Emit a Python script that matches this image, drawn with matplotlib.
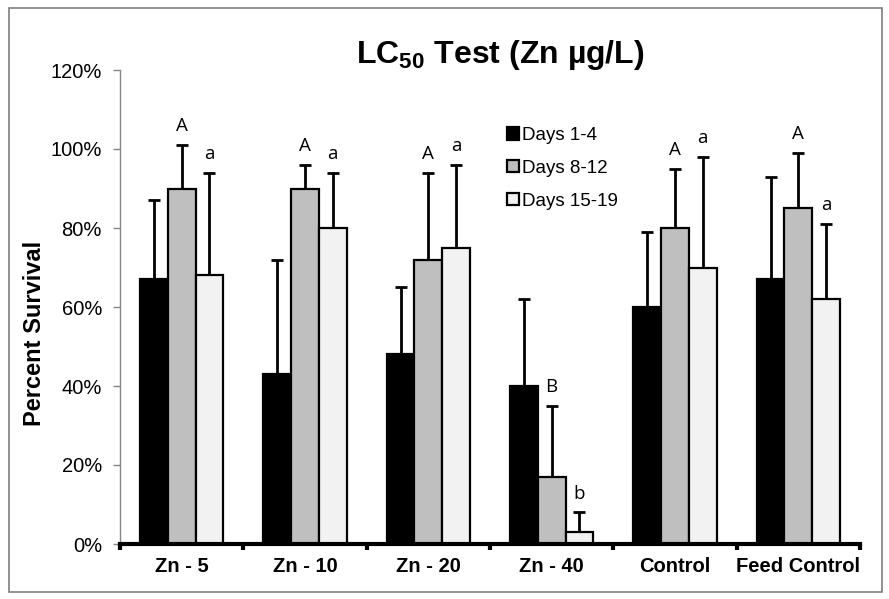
import matplotlib
matplotlib.use("Agg")
import matplotlib.pyplot as plt
import numpy as np
from matplotlib.patches import Rectangle, Patch
from matplotlib.ticker import FuncFormatter

categories = ["Zn - 5", "Zn - 10", "Zn - 20", "Zn - 40", "Control", "Feed Control"]
series_names = ["Days 1-4", "Days 8-12", "Days 15-19"]
days_1_4 = [67, 43, 48, 40, 60, 67]
days_8_12 = [90, 90, 72, 17, 80, 85]
days_15_19 = [68, 80, 75, 3, 70, 62]
err_1_4 = [20, 29, 17, 22, 19, 26]
err_8_12 = [11, 6, 22, 18, 15, 14]
err_15_19 = [26, 14, 21, 5, 28, 19]
letters_8_12 = ["A", "A", "A", "B", "A", "A"]
letters_15_19 = ["a", "a", "a", "b", "a", "a"]
y_ticks = [0, 20, 40, 60, 80, 100, 120]

colors = ["#000000", "#bfbfbf", "#f2f2f2"]
sans = ["Liberation Sans", "DejaVu Sans"]

W, H = 889, 599
fig = plt.figure(figsize=(W / 100, H / 100), dpi=100)
fig.patch.set_facecolor("white")
ax = fig.add_axes([120 / W, 1 - 544 / H, (860 - 120) / W, (544 - 70) / H])

x = np.arange(len(categories))
bw = 0.225
values = [days_1_4, days_8_12, days_15_19]
errs = [err_1_4, err_8_12, err_15_19]
for i, (vals, er) in enumerate(zip(values, errs)):
    pos = x + (i - 1) * bw
    ax.bar(pos, vals, width=bw, color=colors[i], edgecolor="black", linewidth=1.6, zorder=3)
    ax.errorbar(pos, vals, yerr=[np.zeros(len(er)), er], fmt="none", ecolor="black",
                elinewidth=2, capsize=4, capthick=2, zorder=2)

letter_font = ["Open Sans", "DejaVu Sans"]
for j in range(len(categories)):
    top = days_8_12[j] + err_8_12[j]
    ax.text(x[j], top + 3.5, letters_8_12[j], ha="center", va="baseline", fontsize=13.5,
            family=letter_font, zorder=4)
    top = days_15_19[j] + err_15_19[j]
    ax.text(x[j] + bw, top + 3.5, letters_15_19[j], ha="center", va="baseline", fontsize=13.5,
            family=letter_font, zorder=4)

ax.set_xlim(-0.5, len(categories) - 0.5)
ax.set_ylim(0, 120)
ax.set_yticks(y_ticks)
ax.yaxis.set_major_formatter(FuncFormatter(lambda v, p: f"{int(v)}%"))
ax.set_xticks(np.arange(-0.5, len(categories), 1.0))
ax.set_xticklabels([])
ax.tick_params(axis="x", direction="out", length=4, width=3, color="black")
ax.tick_params(axis="y", direction="out", length=5, width=1, color="#868686",
               labelsize=14.5, pad=8)
for lab in ax.get_yticklabels():
    lab.set_family(sans)
for j, c in enumerate(categories):
    ax.text(x[j], -3.2, c, ha="center", va="top", fontsize=14.5, fontweight="bold",
            family=sans)

for s in ["top", "right"]:
    ax.spines[s].set_visible(False)
ax.spines["left"].set_color("#868686")
ax.spines["left"].set_linewidth(1)
ax.spines["bottom"].set_color("black")
ax.spines["bottom"].set_linewidth(3)
ax.spines["bottom"].set_zorder(5)

fig.text(35 / W, 1 - 333 / H, "Percent Survival", rotation=90, ha="center", va="center",
         fontsize=17, fontweight="bold", family=sans)

fig.text(500 / W, 1 - 55 / H, r"LC$_{\mathregular{50}}$ Test (Zn µg/L)", ha="center", va="center",
         fontsize=23, fontweight="bold", family=sans)

handles = [Patch(facecolor=colors[i], edgecolor="black", linewidth=1.6, label=series_names[i])
           for i in range(3)]
leg = fig.legend(handles=handles, loc="upper left", bbox_to_anchor=(490 / W, 1 - 110 / H),
                 frameon=False, handlelength=0.65, handleheight=0.65,
                 handletextpad=0.15, labelspacing=0.85,
                 prop={"family": sans, "size": 13.5})

fig.patches.append(Rectangle((9 / W, 1 - 592 / H), (882 - 9) / W, (592 - 8) / H,
                             transform=fig.transFigure, fill=False, edgecolor="#7f7f7f",
                             linewidth=1.2))

fig.savefig("out.png", dpi=100)
